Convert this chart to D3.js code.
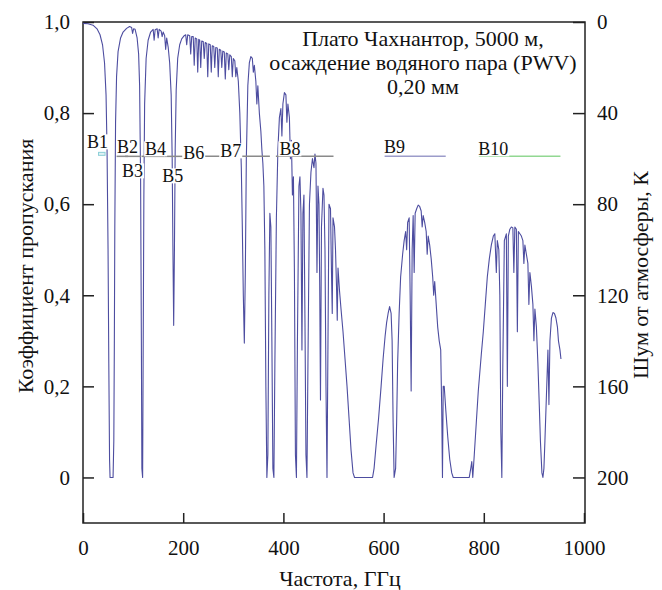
<!DOCTYPE html>
<html>
<head>
<meta charset="utf-8">
<script src="https://cdn.jsdelivr.net/npm/d3@7"></script>
<style>
  body { margin: 0; background: #fff; }
  text { font-family: "Liberation Serif", "Times New Roman", serif; fill: #111; }
</style>
</head>
<body>
<div id="chart"></div>
<script>
// Atmospheric transmission, [frequency GHz, transmission]
const spectrum = [
  [0,0.997],[10,0.996],[20,0.993],[28,0.985],[34,0.972],[39,0.95],[43,0.91],[46,0.84],[48,0.72],[50,0.5],
  [51.5,0.25],[53,0.04],[54,0.0],[60,0.0],[61.5,0.08],[62.5,0.28],[63.5,0.55],[65,0.78],[67,0.88],[70,0.935],
  [75,0.965],[80,0.978],[87,0.986],[93,0.99],[97,0.988],[99,0.975],[101,0.985],[104,0.984],[108,0.965],[111,0.93],
  [113,0.86],[115,0.65],[116.5,0.3],[117.5,0.02],[119,0.0],[120,0.25],[121.5,0.62],[123,0.82],[126,0.92],[130,0.96],
  [135,0.978],[140,0.984],[142,0.96],[144,0.983],[148,0.985],[150,0.965],[152,0.984],[156,0.98],[158,0.968],[160,0.978],
  [163,0.97],[165,0.94],[167,0.965],[170,0.945],[173,0.91],[176,0.84],[178,0.7],[179.5,0.5],[181,0.334],[182.5,0.5],
  [184,0.72],[186,0.85],[189,0.92],[193,0.95],[197,0.963],[202,0.97],[205,0.972],[207,0.95],[209,0.972],[213,0.97],
  [215,0.93],[217,0.968],[220,0.968],[222,0.905],[224,0.965],[227,0.963],[229,0.89],[231,0.962],[233,0.96],[235,0.9],
  [237,0.958],[240,0.957],[242,0.92],[244,0.955],[247,0.953],[249,0.88],[251,0.952],[254,0.95],[256,0.89],[258,0.948],
  [261,0.946],[263,0.9],[265,0.944],[268,0.943],[270,0.88],[272,0.94],[275,0.938],[277,0.9],[279,0.936],[282,0.934],
  [284,0.875],[286,0.932],[289,0.93],[291,0.895],[293,0.928],[296,0.924],[298,0.88],[300,0.92],[303,0.915],[305,0.88],
  [307,0.9],[310,0.87],[313,0.8],[316,0.68],[318,0.55],[320,0.4],[322,0.295],[324,0.45],[326,0.7],[329,0.86],
  [332,0.91],[335,0.924],[338,0.92],[340,0.89],[342,0.905],[345,0.87],[347,0.82],[349,0.86],[352,0.8],[355,0.76],
  [357,0.72],[359,0.69],[361,0.64],[363,0.5],[365,0.2],[367,0.0],[369,0.05],[371,0.4],[373,0.58],[375,0.55],
  [377,0.3],[379,0.02],[381,0.0],[383,0.25],[386,0.57],[389,0.72],[392,0.79],[395,0.81],[397,0.75],[399,0.82],
  [402,0.845],[405,0.84],[407,0.78],[409,0.82],[412,0.79],[414,0.7],[416,0.74],[418,0.62],[420,0.66],[422,0.45],
  [424,0.05],[426,0.0],[428,0.3],[431,0.64],[433,0.66],[435,0.58],[437,0.28],[439,0.58],[441,0.62],[443,0.35],
  [445,0.05],[447,0.0],[449,0.25],[452,0.6],[455,0.67],[458,0.7],[461,0.68],[463,0.71],[465,0.69],[467,0.45],
  [469,0.64],[471,0.6],[472.5,0.42],[474,0.17],[476,0.55],[479,0.635],[481,0.62],[483,0.5],[485,0.2],[487,0.0],
  [489,0.3],[491,0.6],[494,0.59],[496,0.45],[497.5,0.36],[499,0.57],[502,0.55],[504,0.5],[506,0.42],[507.5,0.345],
  [509,0.46],[512,0.41],[515,0.37],[519,0.32],[523,0.26],[527,0.2],[531,0.13],[535,0.06],[539,0.01],[542,0.0],
  [578,0.0],[581,0.02],[585,0.07],[590,0.13],[595,0.2],[599,0.26],[603,0.31],[606,0.34],[609,0.36],[612,0.375],
  [615,0.36],[617,0.3],[619,0.12],[621,0.0],[624,0.02],[626,0.12],[628,0.25],[631,0.36],[634,0.44],[638,0.49],
  [641,0.52],[644,0.54],[646,0.5],[648,0.56],[651,0.57],[653,0.4],[655,0.19],[657,0.5],[659,0.575],[661,0.45],
  [663,0.58],[666,0.59],[669,0.598],[672,0.595],[675,0.585],[677,0.55],[679,0.575],[682,0.56],[685,0.54],[687,0.49],
  [689,0.53],[692,0.51],[695,0.48],[698,0.44],[700,0.4],[702,0.43],[705,0.38],[708,0.33],[711,0.3],[714,0.28],
  [716,0.15],[717.5,0.0],[719,0.2],[721,0.2],[724,0.15],[728,0.09],[732,0.04],[736,0.01],[739,0.0],[771,0.0],
  [774,0.02],[776,0.035],[778,0.0],[781,0.05],[785,0.12],[789,0.19],[795,0.27],[799,0.32],[803,0.38],[807,0.44],
  [811,0.48],[815,0.51],[819,0.53],[822,0.535],[825,0.45],[827,0.52],[830,0.5],[832,0.4],[834,0.1],[836,0.0],
  [838,0.25],[841,0.52],[845,0.535],[847,0.2],[849,0.53],[852,0.545],[855,0.55],[858,0.548],[860,0.45],[862,0.55],
  [865,0.545],[867,0.32],[869,0.54],[872,0.535],[875,0.53],[878,0.52],[880,0.47],[882,0.51],[885,0.49],[888,0.47],
  [890,0.38],[892,0.45],[895,0.42],[898,0.38],[900,0.3],[902,0.37],[905,0.33],[908,0.25],[911,0.15],[913,0.08],
  [916,0.01],[918,0.0],[920,0.02],[922,0.08],[925,0.18],[928,0.28],[930,0.16],[932,0.3],[935,0.35],[938,0.362],
  [941,0.36],[944,0.35],[947,0.33],[949,0.3],[952,0.28],[954,0.26]
];

// ALMA receiver bands (GHz)
const bandNames = ["B1", "B2", "B3", "B4", "B5", "B6", "B7", "B8", "B9", "B10"];
const bandLow   = [31, 67, 84, 117, 163, 211, 275, 385, 602, 790];
const bandHigh  = [44, 90, 116, 163, 211, 275, 373, 500, 724, 953];
const bandLevel = 0.705;

const xTicks = [0, 200, 400, 600, 800, 1000];
const yTicks = [0, 0.2, 0.4, 0.6, 0.8, 1.0];
const noiseTicks = [0, 40, 80, 120, 160, 200];

const titleLines = ["Плато Чахнантор, 5000 м,", "осаждение водяного пара (PWV)", "0,20 мм"];

// Layout
const width = 662, height = 590;
const plot = {left: 83, right: 585, top: 22, bottom: 523};
const curveColor = "#4d4da0";
const bandColor = {B1: "#8ccfd8", B9: "#9c9cca", B10: "#92d892"};
// label anchor: [frequency of left edge, px offset of baseline from band line]
const labelAt = {B1: [8, -8], B2: [68, -3], B3: [78, 21], B4: [124, -1], B5: [158, 26],
                 B6: [200, 3], B7: [274, 1], B8: [392, -1], B9: [601, -3], B10: [789, -1]};

const x = d3.scaleLinear().domain([0, 1000]).range([plot.left, 584]);
const y = d3.scaleLinear().domain([-0.1, 1.0]).range([plot.bottom, plot.top]);
const yNoise = d3.scaleLinear().domain([0, 220]).range([plot.top, plot.bottom]);

const svg = d3.select("#chart").append("svg")
    .attr("width", width)
    .attr("height", height);

// Axes (ticks point inward)
const fmt = d => d === 0 ? "0" : d3.format(".1f")(d).replace(".", ",");

const gx = svg.append("g")
    .attr("transform", `translate(0,${plot.bottom})`)
    .call(d3.axisBottom(x).tickValues(xTicks).tickFormat(d3.format("d")).tickSize(-10).tickPadding(17));
const gy = svg.append("g")
    .attr("transform", `translate(${plot.left},0)`)
    .call(d3.axisLeft(y).tickValues(yTicks).tickFormat(fmt).tickSize(-11).tickPadding(13));
const gr = svg.append("g")
    .attr("transform", `translate(${plot.right},0)`)
    .call(d3.axisRight(yNoise).tickValues(noiseTicks).tickSize(-12).tickPadding(12));

[gx, gy, gr].forEach(g => {
    g.select(".domain").remove();
    g.attr("font-size", 21)
     .attr("font-family", "'Liberation Serif', 'Times New Roman', serif")
     .attr("color", "#222");
    g.selectAll(".tick line").attr("stroke-width", 1.5);
    g.selectAll(".tick text").attr("fill", "#111");
});

// Frame
svg.append("rect")
    .attr("x", plot.left)
    .attr("y", plot.top)
    .attr("width", plot.right - plot.left)
    .attr("height", plot.bottom - plot.top)
    .attr("fill", "none")
    .attr("stroke", "#222")
    .attr("stroke-width", 1.5);

// Transmission curve
const line = d3.line()
    .x(d => x(d[0]))
    .y(d => y(d[1]));

svg.append("path")
    .datum(spectrum)
    .attr("d", line)
    .attr("fill", "none")
    .attr("stroke", curveColor)
    .attr("stroke-width", 1.1)
    .attr("stroke-linejoin", "round");

// Band markers
const bands = bandNames.map((name, i) => ({name: name, lo: bandLow[i], hi: bandHigh[i]}));

const bandG = svg.append("g");
bands.forEach(b => {
    if (b.name === "B1") {
        bandG.append("rect")
            .attr("x", x(b.lo))
            .attr("y", y(bandLevel) - 4)
            .attr("width", x(b.hi) - x(b.lo))
            .attr("height", 3)
            .attr("fill", "#dff2f4")
            .attr("stroke", bandColor.B1)
            .attr("stroke-width", 1);
    } else {
        bandG.append("line")
            .attr("x1", x(b.lo))
            .attr("x2", x(b.hi))
            .attr("y1", y(bandLevel))
            .attr("y2", y(bandLevel))
            .attr("stroke", bandColor[b.name] || "#8a8a8a")
            .attr("stroke-width", 1.5);
    }
});

bands.forEach(b => {
    const pos = labelAt[b.name];
    const g = bandG.append("g");
    const t = g.append("text")
        .attr("x", x(pos[0]))
        .attr("y", y(bandLevel) + pos[1])
        .style("font-size", "18px")
        .text(b.name);
    const bb = t.node().getBBox();
    g.insert("rect", "text")
        .attr("x", bb.x - 1)
        .attr("y", bb.y + 2)
        .attr("width", bb.width + 2)
        .attr("height", bb.height - 5)
        .attr("fill", "#fff");
});

// Title
svg.append("g").selectAll("text")
    .data(titleLines)
    .enter()
    .append("text")
    .attr("x", 423)
    .attr("y", (d, i) => 46 + i * 24)
    .attr("text-anchor", "middle")
    .style("font-size", "22px")
    .text(d => d);

// Axis titles
svg.append("text")
    .attr("x", 340)
    .attr("y", 586)
    .attr("text-anchor", "middle")
    .style("font-size", "22px")
    .text("Частота, ГГц");

svg.append("text")
    .attr("transform", "translate(33,266) rotate(-90)")
    .attr("text-anchor", "middle")
    .style("font-size", "22px")
    .text("Коэффициент пропускания");

svg.append("text")
    .attr("transform", "translate(648,275) rotate(-90)")
    .attr("text-anchor", "middle")
    .style("font-size", "22px")
    .text("Шум от атмосферы, К");
</script>
</body>
</html>
